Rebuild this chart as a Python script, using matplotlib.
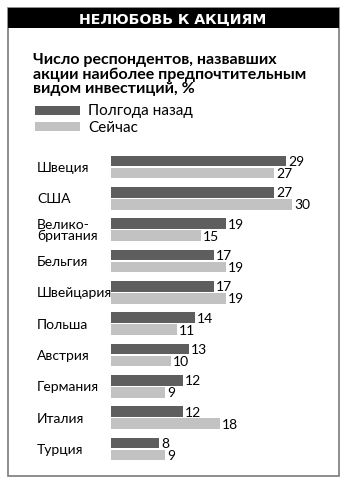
import matplotlib
matplotlib.use("Agg")
import matplotlib.pyplot as plt
from matplotlib.patches import Rectangle
from matplotlib.transforms import blended_transform_factory

# data
countries = ["Швеция", "США", "Велико-\nбритания", "Бельгия", "Швейцария",
             "Польша", "Австрия", "Германия", "Италия", "Турция"]
half_year_ago = [29, 27, 19, 17, 17, 14, 13, 12, 12, 8]
now = [27, 30, 15, 19, 19, 11, 10, 9, 18, 9]
series_names = ["Полгода назад", "Сейчас"]
title = "НЕЛЮБОВЬ К АКЦИЯМ"
subtitle = ["Число респондентов, назвавших",
            "акции наиболее предпочтительным",
            "видом инвестиций, %"]

dark = "#5e5e5e"
light = "#c2c2c2"

plt.rcParams['font.family'] = ['Lato', 'DejaVu Sans']

W, H = 348, 489
fig = plt.figure(figsize=(W / 100, H / 100), dpi=100)


def fx(x):
    return x / W


def fy(y):
    return 1 - y / H


# outer frame + black header band
fig.patches.append(Rectangle((fx(8), fy(477)), fx(339) - fx(8), fy(9) - fy(477),
                             transform=fig.transFigure, fill=False,
                             edgecolor="#7a7a7a", lw=1.2))
fig.patches.append(Rectangle((fx(8), fy(29)), fx(339) - fx(8), fy(9) - fy(29),
                             transform=fig.transFigure, facecolor="black",
                             edgecolor="none"))
fig.text(fx(173), fy(19.5), title, color="white", fontsize=10.2,
         fontweight="bold", family="DejaVu Sans", ha="center", va="center")

for line, base in zip(subtitle, [64, 79, 93]):
    fig.text(fx(33), fy(base), line, fontsize=11.5, fontweight="bold",
             ha="left", va="baseline")

# legend
for col, name, top in zip([dark, light], series_names, [107, 123]):
    fig.patches.append(Rectangle((fx(35), fy(top + 8.5)), fx(80) - fx(35), 8.5 / H,
                                 transform=fig.transFigure, facecolor=col,
                                 edgecolor="none"))
    fig.text(fx(88), fy(top + 4.5), name, fontsize=11, ha="left", va="center")

# bars
scale = 6.05  # px per unit
x0, x1 = 110.7, 340
y0, y1 = 152.3, 465.7
ax = fig.add_axes([fx(x0), fy(y1), (x1 - x0) / W, (y1 - y0) / H])
ax.set_xlim(0, (x1 - x0) / scale)
ax.set_ylim(len(countries) - 0.5, -0.5)
ax.axis("off")

pos = list(range(len(countries)))
off, bh = 0.19, 0.34
ax.barh([p - off for p in pos], half_year_ago, height=bh, color=dark, left=0)
ax.barh([p + off for p in pos], now, height=bh, color=light, left=0)

for p, a, b in zip(pos, half_year_ago, now):
    ax.text(a + 0.3, p - off, str(a), fontsize=10, ha="left", va="center")
    ax.text(b + 0.3, p + off, str(b), fontsize=10, ha="left", va="center")

tr = blended_transform_factory(fig.transFigure, ax.transData)
for p, name in zip(pos, countries):
    ax.text(fx(37), p, name, transform=tr, fontsize=10, ha="left",
            va="center", linespacing=0.95)

fig.savefig("out.png", dpi=100)
